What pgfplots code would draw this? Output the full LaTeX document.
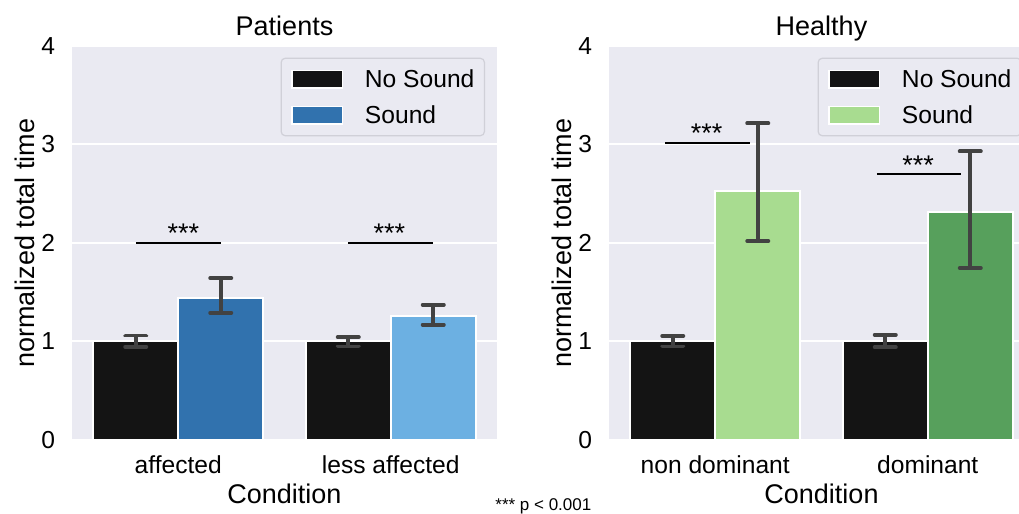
\documentclass[border=0pt]{standalone}
\usepackage{fontspec}
\setmainfont{Liberation Sans}
\usepackage{pgfplots}
\pgfplotsset{compat=1.18}
\definecolor{bg}{RGB}{234,234,242}
\definecolor{nos}{RGB}{20,20,20}
\definecolor{dblue}{RGB}{49,114,174}
\definecolor{lblue}{RGB}{108,176,226}
\definecolor{lgreen}{RGB}{168,220,144}
\definecolor{dgreen}{RGB}{87,160,92}
\definecolor{errc}{RGB}{66,66,66}
\definecolor{legedge}{RGB}{208,208,216}
\pgfplotsset{
  sbstyle/.style={
    scale only axis, width=212.5pt, height=197pt,
    xmin=-0.5, xmax=1.5, ymin=0, ymax=4,
    axis background/.style={fill=bg},
    axis line style={draw=none},
    major tick length=0pt,
    ymajorgrids, grid style={white, line width=1pt},
    ytick={0,1,2,3,4}, xtick={0,1},
    /pgf/number format/assume math mode=true,
    tick label style={font=\fontsize{12.3}{14}\selectfont},
    yticklabel style={anchor=east, inner sep=0pt, xshift=-8.3pt},
    xticklabel style={anchor=base, inner sep=0pt, yshift=-16.7pt},
    every axis y label/.style={at={(axis description cs:-0.0894,0.5)}, rotate=90, anchor=base, font=\fontsize{13.5}{16}\selectfont},
    every axis x label/.style={at={(axis description cs:0.5,0)}, anchor=base, yshift=-31.9pt, font=\fontsize{13.5}{16}\selectfont},
    every axis title/.style={at={(axis description cs:0.5,1)}, anchor=base, yshift=5.5pt, font=\fontsize{13.5}{16}\selectfont},
    ybar, bar width=0.4, bar shift=0pt,
    error bars/y dir=both, error bars/y explicit,
    error bars/error mark=|,
    error bars/error bar style={line width=1.9pt, errc},
    error bars/error mark options={line width=1.9pt, errc, mark size=5.3pt, line cap=round},
    legend image code/.code={\path[#1, sharp corners] (0pt,-4.35pt) rectangle (25.3pt,4.35pt);},
    legend style={at={(axis description cs:1,1)}, anchor=north east, xshift=-6pt, yshift=-5.85pt,
      fill=bg, draw=legedge, rounded corners=2pt, line width=0.6pt,
      inner xsep=5pt, inner ysep=5.6pt, row sep=8.5pt, column sep=10.8pt,
      nodes={inner sep=0pt, text height=8.8pt, text depth=0pt, font=\fontsize{12.3}{14}\selectfont},
      cells={anchor=west}},
    ylabel={normalized total time}, xlabel={Condition},
  },
  bars/.style={draw=white, line width=0.8pt, fill=#1},
  sig/.style={sharp plot, black, line width=1pt, forget plot, mark=none, error bars/y dir=none},
}
\begin{document}
\begin{tikzpicture}
\begin{axis}[sbstyle, at={(36pt,37pt)}, anchor=south west, title={Patients},
  xticklabels={affected, less affected}]
\addplot[bars=nos] coordinates {(-0.2,1.0) += (0,0.06) -= (0,0.055) (0.8,1.0) += (0,0.045) -= (0,0.05)};
\addlegendentry{No Sound}
\addplot[bars=dblue] coordinates {(0.2,1.44) += (0,0.204) -= (0,0.15)};
\addlegendentry{Sound}
\addplot[bars=lblue, forget plot] coordinates {(1.2,1.257) += (0,0.116) -= (0,0.087)};
\addplot[sig] coordinates {(-0.2,2.0) (0.2,2.0)};
\addplot[sig] coordinates {(0.8,2.0) (1.2,2.0)};
\node[anchor=base, inner sep=0pt, font=\fontsize{13.5}{16}\selectfont] at (axis cs:0.024,2.0) {***};
\node[anchor=base, inner sep=0pt, font=\fontsize{13.5}{16}\selectfont] at (axis cs:0.994,2.0) {***};
\end{axis}
\begin{axis}[sbstyle, at={(304.5pt,37pt)}, anchor=south west, title={Healthy},
  xticklabels={non dominant, dominant}]
\addplot[bars=nos] coordinates {(-0.2,1.0) += (0,0.056) -= (0,0.05) (0.8,1.0) += (0,0.068) -= (0,0.058)};
\addlegendentry{No Sound}
\addplot[bars=lgreen] coordinates {(0.2,2.53) += (0,0.685) -= (0,0.51)};
\addlegendentry{Sound}
\addplot[bars=dgreen, forget plot] coordinates {(1.2,2.312) += (0,0.618) -= (0,0.566)};
\addplot[sig] coordinates {(-0.235,3.02) (0.165,3.02)};
\addplot[sig] coordinates {(0.76,2.70) (1.155,2.70)};
\node[anchor=base, inner sep=0pt, font=\fontsize{13.5}{16}\selectfont] at (axis cs:-0.04,3.02) {***};
\node[anchor=base, inner sep=0pt, font=\fontsize{13.5}{16}\selectfont] at (axis cs:0.955,2.70) {***};
\end{axis}
\node[anchor=base west, inner sep=0pt, font=\fontsize{8.5}{10}\selectfont] at (247.5pt,1.75pt) {*** p < 0.001};
\pgfresetboundingbox
\useasboundingbox (0,0) rectangle (509.5pt,257pt);
\end{tikzpicture}
\end{document}
